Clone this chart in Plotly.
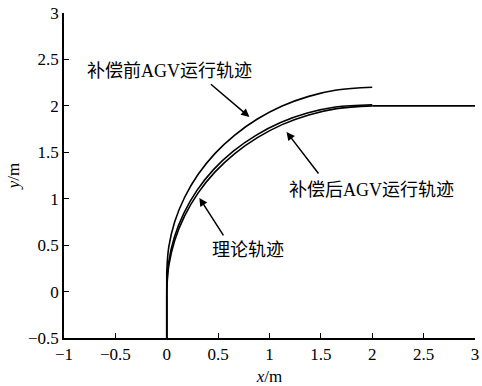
import plotly.graph_objects as go

# Theoretical trajectory (理论轨迹)
theory_x = [0, 0, 0.0195, 0.0774, 0.173, 0.304, 0.468, 0.662, 0.882, 1.123, 1.382, 1.653, 2.0, 3.0]
theory_y = [-0.5, 0, 0.278, 0.551, 0.813, 1.060, 1.286, 1.486, 1.658, 1.798, 1.902, 1.970, 2.0, 2.0]

# AGV trajectory after compensation (补偿后)
after_x = [0, 0, 0.018, 0.074, 0.167, 0.294, 0.455, 0.648, 0.868, 1.108, 1.368, 1.642, 2.0]
after_y = [-0.5, 0.03, 0.31, 0.585, 0.845, 1.09, 1.313, 1.512, 1.682, 1.82, 1.922, 1.988, 2.012]

# AGV trajectory before compensation (补偿前)
before_x = [0, 0, 0.0195, 0.0774, 0.173, 0.304, 0.468, 0.662, 0.882, 1.123, 1.382, 1.653, 2.0]
before_y = [-0.5, 0.2, 0.478, 0.751, 1.013, 1.260, 1.486, 1.686, 1.858, 1.998, 2.102, 2.170, 2.2]

x_ticks = [-1, -0.5, 0, 0.5, 1, 1.5, 2, 2.5, 3]
y_ticks = [-0.5, 0, 0.5, 1, 1.5, 2, 2.5, 3]

FONT = "Liberation Serif, Times New Roman, Noto Sans CJK SC, serif"

fig = go.Figure()
line_style = dict(color="black", width=1.6)
for xs, ys in [(theory_x, theory_y), (after_x, after_y), (before_x, before_y)]:
    # straight lead-in segment
    fig.add_trace(go.Scatter(x=xs[0:2], y=ys[0:2], mode="lines", line=line_style,
                             showlegend=False, hoverinfo="skip"))
    # curved section
    fig.add_trace(go.Scatter(x=xs[1:13], y=ys[1:13], mode="lines",
                             line=dict(**line_style, shape="spline", smoothing=1),
                             showlegend=False, hoverinfo="skip"))
    # straight tail (if any)
    if len(xs) > 13:
        fig.add_trace(go.Scatter(x=xs[12:], y=ys[12:], mode="lines", line=line_style,
                                 showlegend=False, hoverinfo="skip"))

# arrows: (head_x, head_y, tail_x, tail_y)
arrows = [
    (0.805, 1.88, 0.415, 2.246),
    (1.166, 1.719, 1.488, 1.256),
    (0.317, 1.009, 0.561, 0.589),
]
for hx, hy, tx, ty in arrows:
    fig.add_annotation(x=hx, y=hy, ax=tx, ay=ty, xref="x", yref="y",
                       axref="x", ayref="y", text="", showarrow=True,
                       arrowhead=2, arrowsize=1.1, arrowwidth=1.5,
                       arrowcolor="black")

labels = [
    ("补偿前AGV运行轨迹", 0.024, 2.376),
    ("补偿后AGV运行轨迹", 1.995, 1.095),
    ("理论轨迹", 0.79, 0.449),
]
for t, lx, ly in labels:
    fig.add_annotation(x=lx, y=ly, xref="x", yref="y", text=t,
                       showarrow=False, font=dict(family=FONT, size=18, color="black"))

axis_common = dict(showgrid=False, zeroline=False, showline=True,
                   linecolor="black", linewidth=1.5, ticks="inside",
                   ticklen=5, tickwidth=1.2, tickcolor="black",
                   tickfont=dict(family=FONT, size=17, color="black"),
                   mirror=False, automargin=False, ticklabeloverflow="allow")

fig.update_xaxes(range=[-1, 3], tickvals=x_ticks,
                 title=dict(text="<i>x</i>/m", font=dict(family=FONT, size=17, color="black"), standoff=8),
                 **axis_common)
fig.update_yaxes(range=[-0.5, 3], tickvals=y_ticks,
                 title=dict(text="<i>y</i>/m", font=dict(family=FONT, size=17, color="black"), standoff=4),
                 **axis_common)

fig.update_layout(width=482, height=386, margin=dict(l=64, r=7, t=13, b=48),
                  plot_bgcolor="white", paper_bgcolor="white")

fig.write_html("out.html", config={"displayModeBar": False},
               post_script="document.body.style.margin='0';document.body.style.padding='0';")
